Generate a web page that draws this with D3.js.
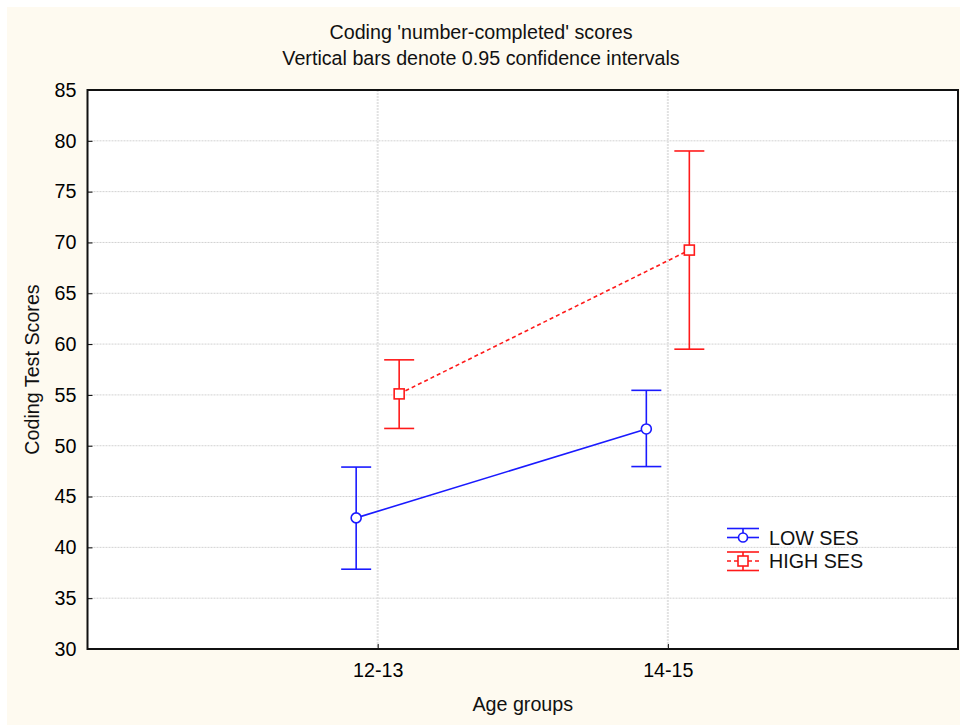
<!DOCTYPE html>
<html>
<head>
<meta charset="utf-8">
<script src="https://cdn.jsdelivr.net/npm/d3@7"></script>
<style>
  html, body { margin: 0; padding: 0; background: #ffffff; }
  svg { display: block; font-family: "Liberation Sans", Arial, sans-serif; }
</style>
</head>
<body>
<svg id="chart" width="960" height="725"></svg>
<script>
// Coding scores by age group and SES, with 0.95 confidence intervals
const groups = ["12-13", "14-15"];
const seriesNames = ["LOW SES", "HIGH SES"];

const lowMean  = [42.9, 51.65];
const lowUpper = [47.9, 55.45];
const lowLower = [37.85, 47.95];

const highMean  = [55.1, 69.25];
const highUpper = [58.45, 79.0];
const highLower = [51.7, 59.5];

const yTicks = [30, 35, 40, 45, 50, 55, 60, 65, 70, 75, 80, 85];

const titleLines = ["Coding 'number-completed' scores", "Vertical bars denote 0.95 confidence intervals"];
const xTitle = "Age groups";
const yTitle = "Coding Test Scores";

const svg = d3.select("#chart");
const W = 960, H = 725;
const plot = { left: 87.5, right: 958, top: 90, bottom: 649 };
const fontSize = 19.7;

// page background
svg.append("rect").attr("x", 7).attr("y", 7).attr("width", W - 7).attr("height", H - 7)
  .attr("fill", "#fefaf0");

// plot area
svg.append("rect").attr("x", plot.left).attr("y", plot.top)
  .attr("width", plot.right - plot.left).attr("height", plot.bottom - plot.top)
  .attr("fill", "#ffffff");

const x = d3.scalePoint().domain(groups).range([plot.left, plot.right]).padding(1);
const y = d3.scaleLinear().domain([30, 85]).range([plot.bottom, plot.top]);

// grid lines
const grid = svg.append("g");
grid.selectAll("line.h").data(yTicks.filter(t => t > 30 && t < 85)).join("line")
  .attr("x1", plot.left).attr("x2", plot.right)
  .attr("y1", d => y(d)).attr("y2", d => y(d))
  .attr("stroke", "#d2d2d2").attr("stroke-width", 1).attr("stroke-dasharray", "2,1");
grid.selectAll("line.v").data(groups).join("line")
  .attr("x1", d => x(d)).attr("x2", d => x(d))
  .attr("y1", plot.top).attr("y2", plot.bottom)
  .attr("stroke", "#e2e2e2").attr("stroke-width", 2).attr("stroke-dasharray", "2,1");

// series
const offset = 21.5;
const capHalf = 15;
const series = [
  { name: seriesNames[0], mean: lowMean, upper: lowUpper, lower: lowLower, color: "#1a1aff", dx: -offset, dash: null, marker: "circle" },
  { name: seriesNames[1], mean: highMean, upper: highUpper, lower: highLower, color: "#ff1a1a", dx: offset, dash: "4,3", marker: "square" }
];

series.forEach(s => {
  const g = svg.append("g");
  const pts = groups.map((gname, i) => ({ cx: x(gname) + s.dx, m: s.mean[i], u: s.upper[i], l: s.lower[i] }));

  // connecting line
  g.append("path")
    .attr("d", d3.line().x(d => d.cx).y(d => y(d.m))(pts))
    .attr("fill", "none").attr("stroke", s.color).attr("stroke-width", 1.6)
    .attr("stroke-dasharray", s.dash);

  // error bars
  pts.forEach(p => {
    g.append("line").attr("x1", p.cx).attr("x2", p.cx).attr("y1", y(p.u)).attr("y2", y(p.l))
      .attr("stroke", s.color).attr("stroke-width", 1.6);
    [p.u, p.l].forEach(v => {
      g.append("line").attr("x1", p.cx - capHalf).attr("x2", p.cx + capHalf)
        .attr("y1", y(v)).attr("y2", y(v))
        .attr("stroke", s.color).attr("stroke-width", 1.6);
    });
    if (s.marker === "circle") {
      g.append("circle").attr("cx", p.cx).attr("cy", y(p.m)).attr("r", 5)
        .attr("fill", "#ffffff").attr("stroke", s.color).attr("stroke-width", 1.6);
    } else {
      g.append("rect").attr("x", p.cx - 5).attr("y", y(p.m) - 5).attr("width", 10).attr("height", 10)
        .attr("fill", "#ffffff").attr("stroke", s.color).attr("stroke-width", 1.6);
    }
  });
});

// axes with inward ticks
const yAxis = d3.axisLeft(y).tickValues(yTicks).tickSize(-5).tickPadding(11).tickFormat(d3.format("d"));
const gy = svg.append("g").attr("transform", `translate(${plot.left},0)`).call(yAxis);
const xAxis = d3.axisBottom(x).tickSize(-5).tickPadding(14);
const gx = svg.append("g").attr("transform", `translate(0,${plot.bottom})`).call(xAxis);
[gx, gy].forEach(g => {
  g.select(".domain").remove();
  g.selectAll(".tick line").attr("stroke", "#000").attr("stroke-width", 1);
  g.selectAll(".tick text").attr("fill", "#000").style("font-size", fontSize + "px")
    .style("font-family", "'Liberation Sans', Arial, sans-serif");
});

// frame
svg.append("rect").attr("x", plot.left).attr("y", plot.top)
  .attr("width", plot.right - plot.left).attr("height", plot.bottom - plot.top)
  .attr("fill", "none").attr("stroke", "#111").attr("stroke-width", 2);

// titles
titleLines.forEach((t, i) => {
  svg.append("text").attr("x", 481).attr("y", 39 + i * 26).attr("text-anchor", "middle")
    .style("font-size", fontSize + "px").attr("fill", "#111").text(t);
});
svg.append("text").attr("x", (plot.left + plot.right) / 2).attr("y", 711).attr("text-anchor", "middle")
  .style("font-size", fontSize + "px").attr("fill", "#111").text(xTitle);
svg.append("text").attr("transform", `translate(39,${(plot.top + plot.bottom) / 2}) rotate(-90)`)
  .attr("text-anchor", "middle").style("font-size", fontSize + "px").attr("fill", "#111").text(yTitle);

// legend
const leg = svg.append("g");
const lx0 = 727, lx1 = 759, lcx = (lx0 + lx1) / 2;
// LOW SES symbol
{
  const c = series[0].color, cy = 537.5;
  leg.append("line").attr("x1", lx0).attr("x2", lx1).attr("y1", 528.5).attr("y2", 528.5).attr("stroke", c).attr("stroke-width", 1.6);
  leg.append("line").attr("x1", lcx).attr("x2", lcx).attr("y1", 528.5).attr("y2", cy).attr("stroke", c).attr("stroke-width", 1.6);
  leg.append("line").attr("x1", lx0).attr("x2", lx1).attr("y1", cy).attr("y2", cy).attr("stroke", c).attr("stroke-width", 1.6);
  leg.append("circle").attr("cx", lcx).attr("cy", cy).attr("r", 4.5).attr("fill", "#fff").attr("stroke", c).attr("stroke-width", 1.6);
  leg.append("text").attr("x", 769).attr("y", 544.5).style("font-size", fontSize + "px").attr("fill", "#111").text(series[0].name);
}
// HIGH SES symbol
{
  const c = series[1].color, cy = 561;
  leg.append("line").attr("x1", lx0).attr("x2", lx1).attr("y1", 552).attr("y2", 552).attr("stroke", c).attr("stroke-width", 1.6);
  leg.append("line").attr("x1", lx0).attr("x2", lx1).attr("y1", 570.5).attr("y2", 570.5).attr("stroke", c).attr("stroke-width", 1.6);
  leg.append("line").attr("x1", lcx).attr("x2", lcx).attr("y1", 552).attr("y2", 570.5).attr("stroke", c).attr("stroke-width", 1.6);
  leg.append("line").attr("x1", lx0).attr("x2", lx1).attr("y1", cy).attr("y2", cy).attr("stroke", c).attr("stroke-width", 1.6).attr("stroke-dasharray", "4,3");
  leg.append("rect").attr("x", lcx - 5).attr("y", cy - 5).attr("width", 10).attr("height", 10).attr("fill", "#fff").attr("stroke", c).attr("stroke-width", 1.6);
  leg.append("text").attr("x", 769).attr("y", 568).style("font-size", fontSize + "px").attr("fill", "#111").text(series[1].name);
}
</script>
</body>
</html>
